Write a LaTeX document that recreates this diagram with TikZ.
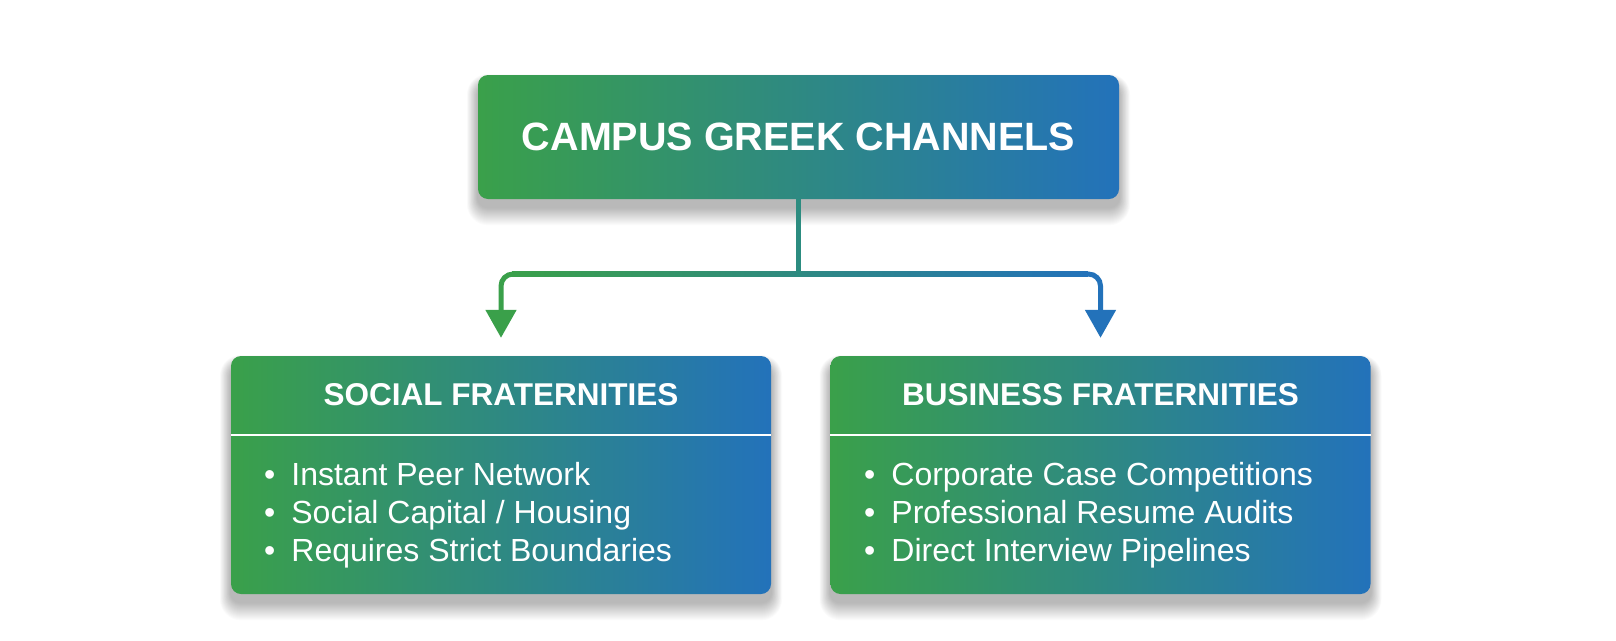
\documentclass[tikz,border=0pt]{standalone}
\usepackage{fontspec}
\setmainfont{Liberation Sans}
\usetikzlibrary{arrows.meta,backgrounds}
\definecolor{cgreen}{RGB}{58,160,74}
\definecolor{cblue}{RGB}{35,114,186}
\definecolor{cteal}{RGB}{44,140,128}
\begin{document}
\begin{tikzpicture}[x=1pt,y=-1pt,
  gbox/.style={rectangle, rounded corners=10pt, draw=none, inner sep=0pt,
    left color=cgreen, right color=cblue},
  maintitle/.style={text=white, font=\bfseries\fontsize{39.5}{48}\selectfont},
  boxtitle/.style={text=white, font=\bfseries\fontsize{31.5}{38}\selectfont},
  item/.style={text=white, anchor=base west, inner sep=0pt, font=\fontsize{32}{38}\selectfont},
  divider/.style={draw=white, line width=2pt},
  conn/.style={line width=5pt},
  branch/.style={line width=5pt, rounded corners=12pt, -{Triangle[width=30pt,length=28pt]}},
  shadowlayer/.style={fill=black, opacity=0.014}
]
% top box
\node[gbox, minimum width=641pt, minimum height=124pt, maintitle] (top) at (798.5,137) {CAMPUS GREEK CHANNELS};

% lower boxes
\node[gbox, minimum width=540pt, minimum height=238pt] (lbox) at (501,475) {};
\node[gbox, minimum width=540pt, minimum height=238pt] (rbox) at (1100.5,475) {};

\begin{scope}[on background layer]
  \fill[white] (0,0) rectangle (1616,640);
  \foreach \b in {top,lbox,rbox}{
    \foreach \i [evaluate=\i as \r using 10+0.6*\i, evaluate=\i as \h using 0.6*\i] in {1,...,18}{
      \fill[shadowlayer, rounded corners=\r pt]
        ([xshift=-\h pt, yshift=-10pt+\h pt]\b.north west) rectangle
        ([xshift=\h pt, yshift=-8pt-\i pt]\b.south east);
    }
  }
\end{scope}
\useasboundingbox (0,0) rectangle (1616,640);

\node[boxtitle] (ltitle) at (501,395) {SOCIAL FRATERNITIES};
\node[boxtitle] (rtitle) at (1100.5,395) {BUSINESS FRATERNITIES};

\draw[divider] ([yshift=-79pt]lbox.north west) -- ([yshift=-79pt]lbox.north east);
\draw[divider] ([yshift=-79pt]rbox.north west) -- ([yshift=-79pt]rbox.north east);

\node[item] (l1) at (264,485) {\textbullet\hspace{16pt}Instant Peer Network};
\node[item] (l2) at (264,523) {\textbullet\hspace{16pt}Social Capital / Housing};
\node[item] (l3) at (264,561) {\textbullet\hspace{16pt}Requires Strict Boundaries};

\node[item] (r1) at (864,485) {\textbullet\hspace{16pt}Corporate Case Competitions};
\node[item] (r2) at (864,523) {\textbullet\hspace{16pt}Professional Resume Audits};
\node[item] (r3) at (864,561) {\textbullet\hspace{16pt}Direct Interview Pipelines};

% connectors
\coordinate (junc) at (798.5,274);
\draw[branch, cgreen] (junc) -| ([yshift=18pt]lbox.north);
\draw[branch, cblue] (junc) -| ([yshift=18pt]rbox.north);
\fill[left color=cgreen, right color=cblue] (512,271.5) rectangle (1088,276.5);
\draw[conn, cteal] (top.south) -- ([yshift=-2.5pt]junc);
\end{tikzpicture}
\end{document}
